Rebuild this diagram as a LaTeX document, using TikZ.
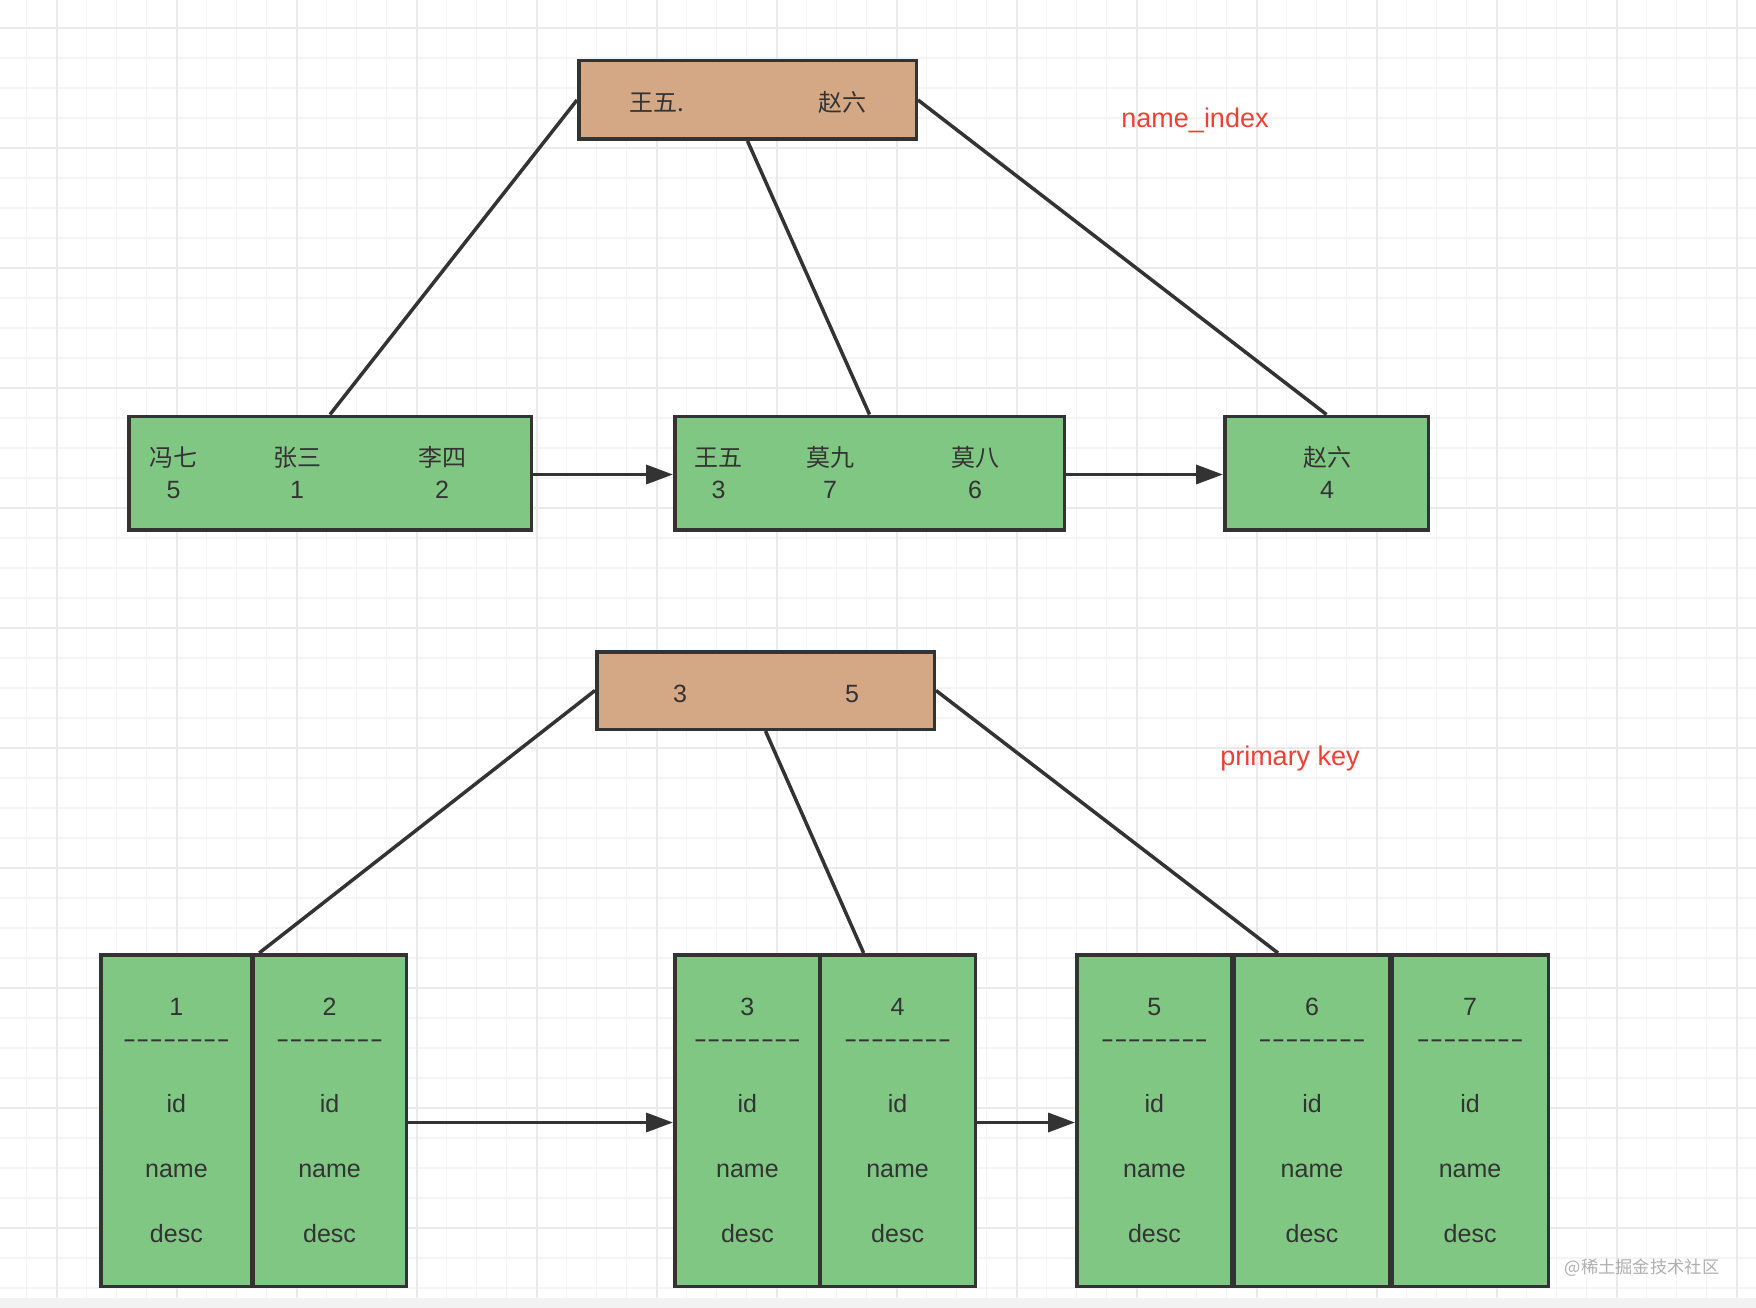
\documentclass[tikz,border=0pt]{standalone}
\usepackage{fontspec}
\setmainfont{Liberation Sans}
\newfontfamily\cjk{Noto Sans CJK SC}[Scale=0.96]
\usepackage{graphicx}
\usepackage{tikz}
\usetikzlibrary{positioning, arrows.meta, calc}
\usepackage{xcolor}
\definecolor{inkc}{RGB}{51,51,51}
\definecolor{tanfill}{RGB}{212,168,132}
\definecolor{leaffill}{RGB}{129,199,132}
\definecolor{notered}{RGB}{240,64,52}
\definecolor{gridminor}{RGB}{244,244,244}
\definecolor{gridmajor}{RGB}{234,234,234}
\definecolor{pagegray}{RGB}{242,242,242}
\definecolor{markgray}{RGB}{175,175,175}
\newcommand{\dsh}{\makebox[13.4pt]{\scalebox{1.6}[1]{-}}}
\newcommand{\dashrow}{\dsh\dsh\dsh\dsh\dsh\dsh\dsh\dsh}
\newcommand{\rowtxt}[1]{#1\\[-1pt]\dashrow\\[32pt]id\\[32pt]name\\[32pt]desc}

\begin{document}
\begin{tikzpicture}[x=1pt, y=-1pt,
  keybox/.style={draw=inkc, line width=3.5pt, fill=tanfill, inner sep=0pt},
  leafbox/.style={draw=inkc, line width=3.5pt, fill=leaffill, inner sep=0pt},
  cellbox/.style={leafbox, text=inkc, align=center, minimum height=331.5pt,
    font=\fontsize{25}{33}\selectfont},
  keytxt/.style={text=inkc, align=center, inner sep=0pt, anchor=base,
    font=\fontsize{25}{32}\selectfont},
  link/.style={draw=inkc, line width=3.5pt},
  nextptr/.style={link, -{Triangle[length=27pt, width=19pt]}},
  treename/.style={text=notered, inner sep=0pt, anchor=base,
    font=\fontsize{27}{30}\selectfont}]
\useasboundingbox (0,0) rectangle (1756,1308);

% background grid
\fill[white] (0,0) rectangle (1756,1298);
\fill[pagegray] (0,1298) rectangle (1756,1308);
\foreach \k in {0,...,57} \draw[gridminor, line width=1.5pt] ({26.7+30*\k},0) -- ({26.7+30*\k},1298);
\foreach \k in {0,...,42} \draw[gridminor, line width=1.5pt] (0,{28+30*\k}) -- (1756,{28+30*\k});
\foreach \k in {0,...,14} \draw[gridmajor, line width=2pt] ({56.7+120*\k},0) -- ({56.7+120*\k},1298);
\foreach \k in {0,...,10} \draw[gridmajor, line width=2pt] (0,{28+120*\k}) -- (1756,{28+120*\k});

% name_index tree
\node[keybox, minimum width=337.5pt, minimum height=78.5pt] (nroot) at (747.5,100) {};
\node[leafbox, minimum width=402.5pt, minimum height=113.5pt] (nleaf1) at (330,473) {};
\node[leafbox, minimum width=389.5pt, minimum height=113.5pt] (nleaf2) at (869.5,473) {};
\node[leafbox, minimum width=203.5pt, minimum height=113.5pt] (nleaf3) at (1326.5,473) {};

\node[keytxt] (nk1) at (657,112) {\cjk 王五.};
\node[keytxt] (nk2) at (842,112) {\cjk 赵六};
\node[keytxt] (ne1) at (173.5,498) {{\cjk 冯七}\\5};
\node[keytxt] (ne2) at (297,498) {{\cjk 张三}\\1};
\node[keytxt] (ne3) at (442,498) {{\cjk 李四}\\2};
\node[keytxt] (ne4) at (718.5,498) {{\cjk 王五}\\3};
\node[keytxt] (ne5) at (830,498) {{\cjk 莫九}\\7};
\node[keytxt] (ne6) at (975,498) {{\cjk 莫八}\\6};
\node[keytxt] (ne7) at (1327,498) {{\cjk 赵六}\\4};

\draw[link] (nroot.west) -- (nleaf1.north);
\draw[link] (nroot.south) -- (nleaf2.north);
\draw[link] (nroot.east) -- (nleaf3.north);
\draw[nextptr] ([yshift=-1.5pt]nleaf1.east) -- ([yshift=-1.5pt]nleaf2.west);
\draw[nextptr] ([yshift=-1.5pt]nleaf2.east) -- ([yshift=-1.5pt]nleaf3.west);

\node[treename] (nname) at (1195,128) {name\_index};

% primary key tree
\node[keybox, minimum width=337.5pt, minimum height=77.5pt] (proot) at (765.5,690.5) {};
\node[keytxt] (pk1) at (680,702) {3};
\node[keytxt] (pk2) at (852,702) {5};

\node[cellbox, minimum width=151.3pt] (c1) at (176.4,1120.5) {\rowtxt{1}};
\node[cellbox, minimum width=153.3pt] (c2) at (329.6,1120.5) {\rowtxt{2}};
\node[cellbox, minimum width=145.3pt] (c3) at (747.4,1120.5) {\rowtxt{3}};
\node[cellbox, minimum width=155.3pt] (c4) at (897.6,1120.5) {\rowtxt{4}};
\node[cellbox, minimum width=155.3pt] (c5) at (1154.4,1120.5) {\rowtxt{5}};
\node[cellbox, minimum width=156pt] (c6) at (1312,1120.5) {\rowtxt{6}};
\node[cellbox, minimum width=156.3pt] (c7) at (1470.1,1120.5) {\rowtxt{7}};

\draw[link] (proot.west) -- ([xshift=8pt]c2.north west);
\draw[link] (proot.south) -- ([xshift=-34pt]c4.north);
\draw[link] (proot.east) -- ([xshift=-34pt]c6.north);
\draw[nextptr] ([yshift=-2pt]c2.east) -- ([yshift=-2pt]c3.west);
\draw[nextptr] ([yshift=-2pt]c4.east) -- ([yshift=-2pt]c5.west);

\node[treename] (pname) at (1290,765) {primary key};

\node[text=markgray, inner sep=0pt, anchor=base, font=\cjk\fontsize{18}{20}\selectfont] (mark) at (1642,1273) {@稀土掘金技术社区};
\end{tikzpicture}
\end{document}
